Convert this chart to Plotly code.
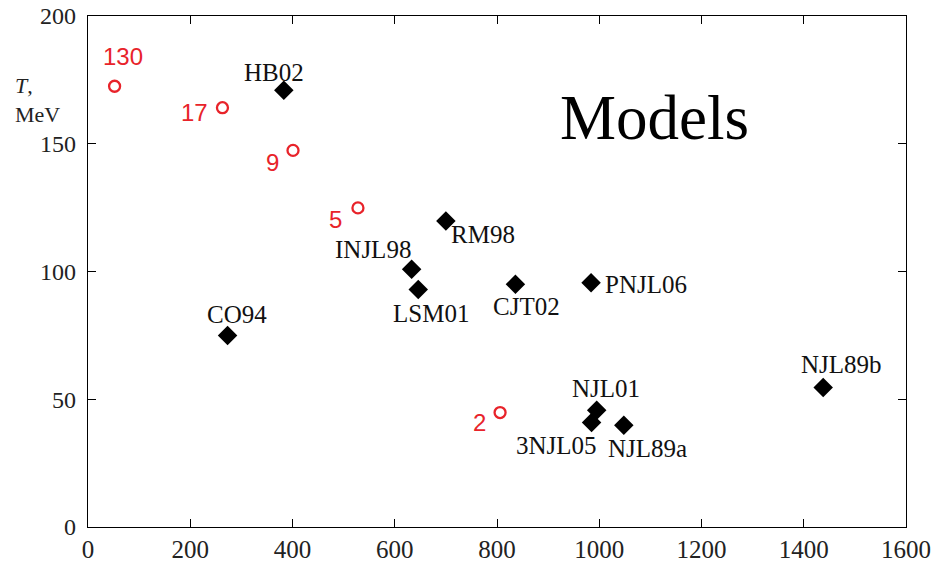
import plotly.graph_objects as go

# Model predictions: chemical potential (x) vs temperature T (MeV)
model_names = ["HB02", "RM98", "INJL98", "LSM01", "CJT02", "PNJL06", "CO94",
               "NJL01", "3NJL05", "NJL89a", "NJL89b"]
model_mu = [383, 700, 633, 646, 836, 984, 273, 995, 985, 1048, 1438]
model_T = [170.9, 119.8, 100.9, 93, 95, 95.6, 75, 45.7, 40.9, 39.8, 54.6]

# Freeze-out points labelled by collision energy
energy_labels = ["130", "17", "9", "5", "2"]
energy_mu = [52, 263, 401, 528, 806]
energy_T = [172.5, 164.1, 147.4, 124.9, 44.8]

x_ticks = [0, 200, 400, 600, 800, 1000, 1200, 1400, 1600]
y_ticks = [0, 50, 100, 150, 200]

# Label offsets in pixels (dx, dy) from each marker
model_offsets = {
    "HB02": (-10, 18), "RM98": (37, -14), "INJL98": (-39, 20), "LSM01": (13, -24),
    "CJT02": (11, -22), "PNJL06": (55, -2), "CO94": (9, 21), "NJL01": (9, 22),
    "3NJL05": (-35, -23), "NJL89a": (24, -23), "NJL89b": (18, 23),
}
energy_offsets = {
    "130": (8, 30), "17": (-28, -5), "9": (-21, -12), "5": (-22, -12), "2": (-21, -10),
}

SERIF = "Liberation Serif, Times New Roman, serif"
SANS = "Liberation Sans, Arial, sans-serif"
RED = "#e8232a"

fig = go.Figure()
fig.add_trace(go.Scatter(
    x=model_mu, y=model_T, mode="markers",
    marker=dict(symbol="diamond", size=15, color="black"),
    hoverinfo="text", text=model_names,
))
fig.add_trace(go.Scatter(
    x=energy_mu, y=energy_T, mode="markers",
    marker=dict(symbol="circle-open", size=11, color=RED, line=dict(width=2.3, color=RED)),
    hoverinfo="text", text=energy_labels,
))

annotations = []
for name, x, y in zip(model_names, model_mu, model_T):
    dx, dy = model_offsets[name]
    annotations.append(dict(x=x, y=y, text=name, showarrow=False, xshift=dx, yshift=dy,
                            font=dict(family=SERIF, size=25, color="#111")))
for name, x, y in zip(energy_labels, energy_mu, energy_T):
    dx, dy = energy_offsets[name]
    annotations.append(dict(x=x, y=y, text=name, showarrow=False, xshift=dx, yshift=dy,
                            font=dict(family=SANS, size=24, color=RED)))
annotations.append(dict(x=0.693, y=0.80, xref="paper", yref="paper", text="Models",
                        xanchor="center", yanchor="middle",
                        showarrow=False, font=dict(family=SERIF, size=63, color="black")))
annotations.append(dict(x=-0.092, y=0.893, xref="paper", yref="paper",
                        text="<i>T</i>,<br>MeV", showarrow=False, align="left",
                        xanchor="left", yanchor="top",
                        font=dict(family=SERIF, size=22, color="#222")))

axis_common = dict(
    showgrid=False, zeroline=False, showline=True, linecolor="black", linewidth=1.3,
    mirror="allticks", ticks="inside", ticklen=8, tickwidth=1.3, tickcolor="black",
    automargin=False,
)
fig.update_xaxes(range=[0, 1600], tickvals=x_ticks,
                 tickfont=dict(family=SERIF, size=25, color="#222"), **axis_common)
fig.update_yaxes(range=[0, 200], tickvals=y_ticks, ticklabelstandoff=6,
                 tickfont=dict(family=SERIF, size=24, color="#222"), **axis_common)

fig.update_layout(
    width=934, height=562, showlegend=False,
    margin=dict(l=88, r=28, t=16, b=35),
    plot_bgcolor="white", paper_bgcolor="white",
    annotations=annotations,
)

fig.write_html("out.html")
